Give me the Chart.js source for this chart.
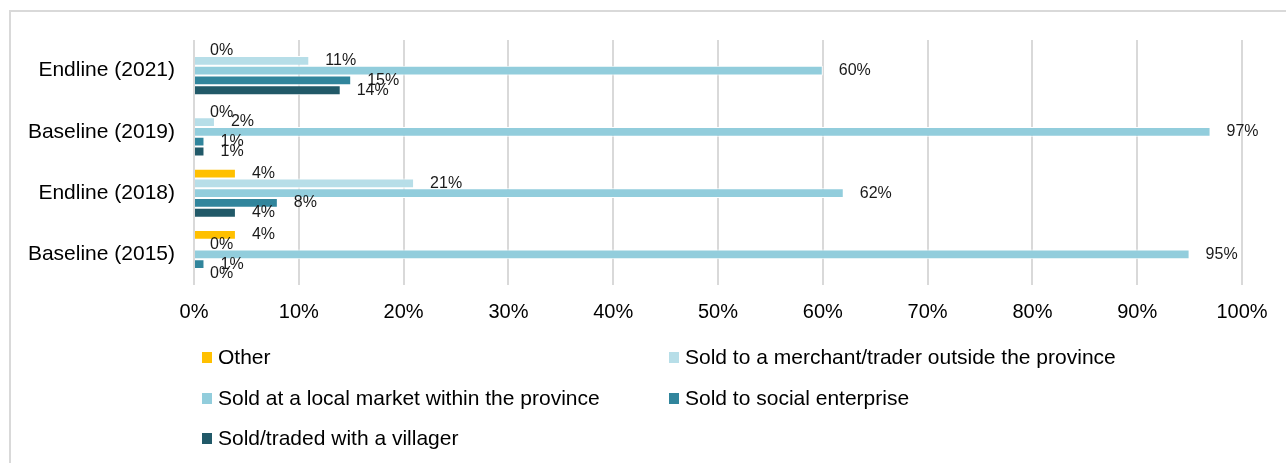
<!DOCTYPE html>
<html lang="en">
<head>
  <meta charset="UTF-8" />
  <title>Sales channels</title>
  <script src="https://cdn.jsdelivr.net/npm/chart.js"></script>
  <style>
    body {
      margin: 0;
      background: #ffffff;
      font-family: "Liberation Sans", Arial, sans-serif;
      overflow: hidden;
    }

    .frame {
      position: absolute;
      left: 9px;
      top: 10px;
      width: 1400px;
      height: 600px;
      border-left: 2px solid #d9d9d9;
      border-top: 2px solid #d9d9d9;
    }

    .wrap {
      position: absolute;
      left: 0;
      top: 0;
      width: 1286px;
      height: 463px;
    }

    .legend {
      position: absolute;
      left: 0;
      top: 0;
    }

    .legend .item {
      position: absolute;
      display: flex;
      align-items: center;
      font-size: 21px;
      color: #000;
      white-space: nowrap;
      transform: translateY(-50%);
    }

    .legend .box {
      width: 10px;
      height: 11px;
      margin-right: 6px;
    }
  </style>
</head>
<body>
  <div class="frame"></div>
  <div class="wrap">
    <canvas id="chart" width="1286" height="463"></canvas>
  </div>
  <div class="legend" id="legend"></div>

  <script>
    const categories = ['Endline (2021)', 'Baseline (2019)', 'Endline (2018)', 'Baseline (2015)'];

    const seriesNames = [
      'Other',
      'Sold to a merchant/trader outside the province',
      'Sold at a local market within the province',
      'Sold to social enterprise',
      'Sold/traded with a villager'
    ];

    const other      = [0, 0, 4, 4];
    const merchant   = [11, 2, 21, 0];
    const localMkt   = [60, 97, 62, 95];
    const socialEnt  = [15, 1, 8, 1];
    const villager   = [14, 1, 4, 0];

    const xTicks = [0, 10, 20, 30, 40, 50, 60, 70, 80, 90, 100];

    const colors = ['#ffc000', '#b7dee8', '#92cddc', '#31859c', '#215968'];
    const seriesValues = [other, merchant, localMkt, socialEnt, villager];

    const fontFamily = '"Liberation Sans", Arial, sans-serif';

    // percent labels just past the end of every bar
    const barLabels = {
      id: 'barLabels',
      afterDatasetsDraw(chart) {
        const ctx = chart.ctx;
        ctx.save();
        ctx.font = '16px ' + fontFamily;
        ctx.fillStyle = '#1a1a1a';
        ctx.textAlign = 'left';
        ctx.textBaseline = 'middle';
        chart.data.datasets.forEach((ds, i) => {
          const meta = chart.getDatasetMeta(i);
          meta.data.forEach((bar, j) => {
            ctx.fillText(ds.data[j] + '%', bar.x + 16, bar.y);
          });
        });
        ctx.restore();
      }
    };

    const ctx = document.getElementById('chart').getContext('2d');
    const chart = new Chart(ctx, {
      type: 'bar',
      data: {
        labels: categories,
        datasets: seriesNames.map((name, i) => ({
          label: name,
          data: seriesValues[i],
          backgroundColor: colors[i],
          borderColor: '#ffffff',
          borderWidth: 1,
          categoryPercentage: 0.8,
          barPercentage: 1
        }))
      },
      options: {
        indexAxis: 'y',
        responsive: false,
        animation: false,
        layout: { padding: { top: 40, right: 44, left: 0, bottom: 0 } },
        plugins: {
          legend: { display: false },
          tooltip: { enabled: false }
        },
        scales: {
          x: {
            min: 0,
            max: 100,
            afterFit(scale) { scale.height = 178; },
            afterBuildTicks(scale) { scale.ticks = xTicks.map(v => ({ value: v })); },
            grid: { color: '#d9d9d9', lineWidth: 2, drawTicks: false },
            border: { display: false },
            ticks: {
              padding: 15,
              color: '#000',
              font: { size: 20, family: fontFamily },
              callback: v => v + '%'
            }
          },
          y: {
            afterFit(scale) { scale.width = 194; },
            grid: { display: false, drawTicks: false },
            border: { display: false },
            ticks: {
              padding: 19,
              color: '#000',
              font: { size: 21, family: fontFamily }
            }
          }
        }
      },
      plugins: [barLabels]
    });

    // two-column legend under the axis
    const legendPos = [[202, 357], [669, 357], [202, 398], [669, 398], [202, 438]];
    const legendEl = document.getElementById('legend');
    chart.data.datasets.forEach((ds, i) => {
      const item = document.createElement('div');
      item.className = 'item';
      item.style.left = legendPos[i][0] + 'px';
      item.style.top = legendPos[i][1] + 'px';
      item.innerHTML = '<span class="box" style="background:' + ds.backgroundColor + '"></span>' + ds.label;
      legendEl.appendChild(item);
    });
  </script>
</body>
</html>
